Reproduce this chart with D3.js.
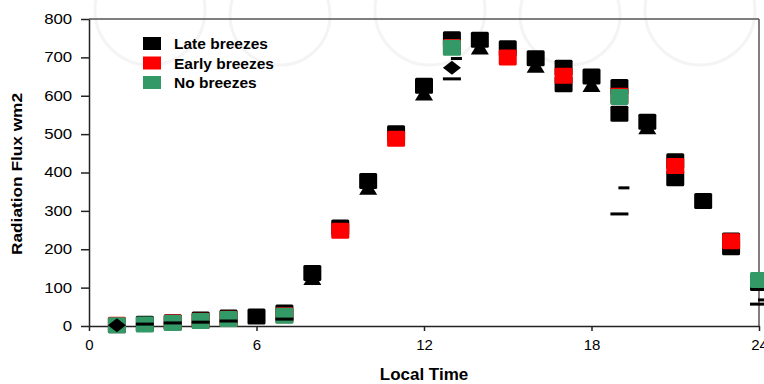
<!DOCTYPE html>
<html>
<head>
<meta charset="utf-8">
<script src="https://cdn.jsdelivr.net/npm/d3@7"></script>
<style>
  body { margin: 0; background: #fff; }
  text { font-family: "Liberation Sans", Arial, sans-serif; }
</style>
</head>
<body>
<svg id="svg" width="764" height="384"></svg>
<script>
// hours 1..24
const hours = [1,2,3,4,5,6,7,8,9,10,11,12,13,14,15,16,17,18,19,20,21,22,23,24];
const lateBreezes = [2,6,10,17,22,25,35,138,257,378,502,626,747,746,724,698,673,650,623,532,429,326,223,112];
const lateLow = [null,null,null,null,null,null,null,null,null,null,null,null,null,null,null,null,630,null,553,null,385,null,205,null];
const earlyBreezes = [3,null,9,14,19,null,28,null,248,null,488,null,727,null,700,null,652,null,600,null,417,null,221,null];
const noBreezes = [2,4,8,13,18,null,27,null,null,null,null,null,725,null,null,null,null,null,597,null,null,null,null,120];
const triangles = [null,null,null,null,null,null,null,125,null,360,null,606,null,726,null,678,null,628,null,518,null,null,null,null];
const diamonds = [2,null,null,null,null,null,null,null,null,null,null,null,673,null,null,null,null,null,null,null,null,null,null,null];
const longDash = [null,5,8,10,13,null,18,null,null,null,null,null,644,null,null,null,null,null,292,null,null,null,null,57];
const shortDash = [null,null,null,null,null,null,null,null,null,null,null,null,697,null,null,null,null,null,360,null,null,null,null,68];

const xTicks = [0,6,12,18,24];
const yTicks = [0,100,200,300,400,500,600,700,800];
const legendNames = ['Late breezes','Early breezes','No breezes'];
const legendColours = ['#000000','#ff0000','#339966'];

const svg = d3.select('#svg');
const x = d3.scaleLinear().domain([0, 24]).range([89, 759]);
const y = d3.scaleLinear().domain([0, 800]).range([326, 19]);

// faint watermark
const wm = svg.append('g').attr('fill', 'none').attr('stroke', '#f4f4f4').attr('stroke-width', 3);
[[150, 10, 55], [280, 15, 50], [430, 10, 55], [570, 15, 50], [700, 10, 55]].forEach(c => {
  wm.append('circle').attr('cx', c[0]).attr('cy', c[1]).attr('r', c[2]);
});

// frame top/right
svg.append('line').attr('x1', 89).attr('x2', 759).attr('y1', 19).attr('y2', 19).attr('stroke', '#555').attr('stroke-width', 1.5);
svg.append('line').attr('x1', 759).attr('x2', 759).attr('y1', 19).attr('y2', 326).attr('stroke', '#555').attr('stroke-width', 1.5);

const xAxisG = svg.append('g').attr('transform', 'translate(0,326)')
  .call(d3.axisBottom(x).tickValues(xTicks).tickSize(5).tickSizeOuter(0));
xAxisG.selectAll('text').attr('font-size', 15).attr('fill', '#000').attr('dy', '1.05em');

const yAxisG = svg.append('g').attr('transform', 'translate(89,0)')
  .call(d3.axisLeft(y).tickValues(yTicks).tickSize(8).tickSizeOuter(0));
yAxisG.selectAll('text').attr('font-size', 14).attr('fill', '#000')
  .attr('x', -14).attr('transform', 'scale(1.2,1)');
svg.selectAll('.domain, .tick line').attr('stroke', '#222').attr('stroke-width', 1.5);

svg.append('text').attr('x', 424).attr('y', 380)
  .attr('text-anchor', 'middle').attr('font-size', 17).attr('font-weight', 'bold').text('Local Time');
svg.append('text').attr('transform', 'translate(22,174) rotate(-90)')
  .attr('text-anchor', 'middle').attr('font-size', 15).attr('font-weight', 'bold')
  .attr('textLength', 162).attr('lengthAdjust', 'spacingAndGlyphs').text('Radiation Flux wm2');

const pts = arr => hours.map((h, i) => ({ h: h, v: arr[i] })).filter(d => d.v != null);
const plot = svg.append('g');

function squares(arr, colour) {
  plot.append('g').selectAll('rect').data(pts(arr)).join('rect')
    .attr('x', d => x(d.h) - 9).attr('y', d => y(d.v) - 8)
    .attr('width', 18).attr('height', 16).attr('rx', 1.5)
    .attr('fill', colour);
}
squares(lateLow, '#000');
squares(lateBreezes, '#000');
plot.append('g').selectAll('path').data(pts(triangles)).join('path')
  .attr('transform', d => `translate(${x(d.h)},${y(d.v)})`)
  .attr('d', 'M0,-8L9,7L-9,7Z').attr('fill', '#000');
squares(earlyBreezes, '#ff0000');
squares(noBreezes, '#339966');
plot.append('g').selectAll('rect').data(pts(longDash)).join('rect')
  .attr('x', d => x(d.h) - 9).attr('y', d => y(d.v) - 1.5)
  .attr('width', 18).attr('height', 3).attr('fill', '#000');
plot.append('g').selectAll('rect').data(pts(shortDash)).join('rect')
  .attr('x', d => x(d.h) - 1).attr('y', d => y(d.v) - 1.5)
  .attr('width', 11).attr('height', 3).attr('fill', '#000');
plot.append('g').selectAll('path').data(pts(diamonds)).join('path')
  .attr('transform', d => `translate(${x(d.h)},${y(d.v)})`)
  .attr('d', 'M0,-7L9,0L0,7L-9,0Z').attr('fill', '#000');

// legend
const legend = svg.append('g');
legendNames.forEach((name, i) => {
  legend.append('rect').attr('x', 143).attr('y', 37 + i * 19.5)
    .attr('width', 18).attr('height', 13).attr('fill', legendColours[i]);
  legend.append('text').attr('x', 174).attr('y', 49 + i * 19.5)
    .attr('font-size', 15.5).attr('font-weight', 'bold').text(name);
});
</script>
</body>
</html>
